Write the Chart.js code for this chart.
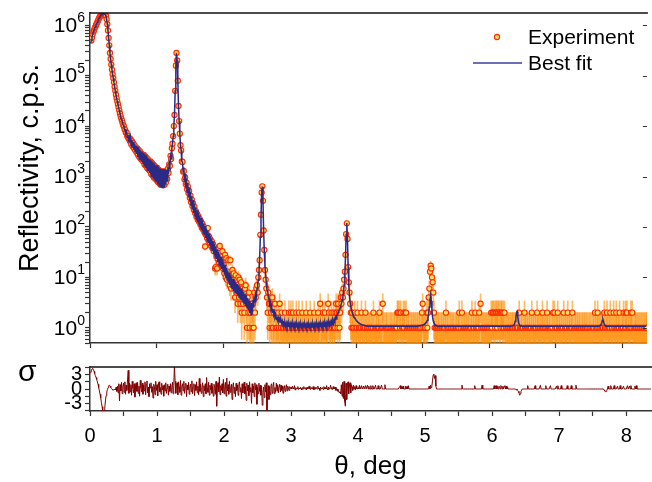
<!DOCTYPE html>
<html>
<head>
<meta charset="utf-8">
<script src="https://cdn.jsdelivr.net/npm/chart.js@4.4.1/dist/chart.umd.min.js"></script>
<style>
  body { margin: 0; background: #fff; }
  #wrap { position: relative; width: 652px; height: 482px; font-family: "Liberation Sans", Arial, sans-serif; }
  #top { position: absolute; left: 0; top: 0; }
  #bot { position: absolute; left: 0; top: 352px; }
  #sig { position: absolute; left: 18px; top: 356px; font-size: 30px; line-height: 30px; color: #000; }
</style>
</head>
<body>
<div id="wrap">
  <canvas id="top" width="652" height="352"></canvas>
  <canvas id="bot" width="652" height="130"></canvas>
  <div id="sig">σ</div>
</div>
<script>
// one row = 0.1 deg, ten steps of 0.01 deg (row k, col j -> theta = 0.1k + 0.01(j+1))
const expRows = [
  [null, 500000, 575000, 660000, 740000, 790000, 870000, 930000, 1000000, 1070000],
  [1150000, 1230000, 1320000, 1410000, 1480000, 1550000, 1620000, 1660000, 1700000, 1700000],
  [1700000, 1660000, 1620000, 1510000, 1320000, 1050000, 790000, 560000, 400000, 282000],
  [214000, 166000, 132000, 107000, 89000, 74000, 60000, 50000, 42000, 35500],
  [31000, 27000, 23500, 20500, 17800, 15800, 14100, 12900, 11500, 10500],
  [9770, 8700, 8320, 7420, 7410, 6310, 6460, 5620, 5760, 5010],
  [5490, 4370, 5010, 3990, 4570, 3630, 4160, 3310, 3800, 3020],
  [3630, 2690, 3390, 2460, 3160, 2290, 2880, 2130, 2690, 1990],
  [2690, 1740, 2510, 1630, 2340, 1480, 2190, 1380, 1990, 1290],
  [1990, 1120, 1860, 1050, 1740, 956, 1620, 911, 1516, 850],
  [1484, 778, 1376, 741, 1288, 691, 1259, 676, 1230, 676],
  [1259, 691, 1259, 758, 1284, 894, 1410, 1176, 1739, 1623],
  [2570, 2240, 3640, 4470, 6310, 10000, 16600, 50100, 158000, 282000],
  [200000, 79400, 25100, 12600, 7080, 4170, 3300, 1990, 1950, 1250],
  [1290, 870, 960, 700, 760, 560, 640, 470, 520, 380],
  [420, 310, 350, 260, 290, 220, 250, 190, 205, 160],
  [181, 139, 162, 127, 143, 112, 128, 97, 116, 89],
  [101, 78, 41, 70, 80, 60, 95, 54, 64, 49],
  [57, 42, 52, 38, 45, 33, 40, 15, 16, 26],
  [15, 23, 38, 20, 42, 26, 22, 16, 33, 15],
  [18, 12, 28, 10, 24, 9, 13, 22, 11, 7],
  [22, 6, 9, 14, 8, 12, 6, 4, 11, 5],
  [7, 3, 10, 4, 9, 3, 8, 2, 6, 3],
  [5, 2, 6, 7, 3, 1, 4, 2, 5, 1],
  [2, 0, 3, 1, 3, 1, 5, 2, 4, 6],
  [7, 5, 10, 14, 22, 70, 175, 480, 640, 330],
  [85, 35, 14, 9, 6, 4, 2, 5, 3, 1],
  [3, 2, 1, 4, 1, 2, 0, 3, 1, 2],
  [1, 0, 2, 1, 3, 0, 1, 2, 0, 1],
  [1, 0, 2, 1, 0, 1, 1, 0, 2, 1],
  [0, 2, 1, 0, 2, 1, 1, 0, 1, 2],
  [1, 0, 1, 2, 0, 1, 0, 1, 2, 1],
  [0, 1, 1, 0, 2, 1, 0, 1, 1, 0],
  [2, 1, 0, 1, 1, 0, 2, 0, 1, 1],
  [0, 1, 2, 1, 0, 3, 1, 0, 1, 2],
  [1, 0, 2, 1, 1, 0, 1, 3, 2, 1],
  [0, 1, 2, 1, 0, 2, 1, 1, 2, 3],
  [2, 1, 3, 2, 1, 2, 4, 3, 5, 4],
  [6, 9, 13, 28, 72, 118, 58, 16, 8, 5],
  [3, 2, 1, 2, 1, 1, 0, 2, 1, 0],
  [1, 2, 0, 1, 1, 0, 1, 2, 0, 1],
  [1, 0, 1, 2, 0, 1, 1, 0, 1, 1],
  [0, 1, 1, 0, 1, 2, 0, 1, 0, 1],
  [1, 0, 1, 1, 2, 0, 1, 0, 1, 3],
  [1, 0, 1, 0, 1, 1, 0, 1, 0, 1],
  [0, 1, 1, 0, 1, 0, 1, 1, 0, 1],
  [1, 2, 2, 0, 2, 1, 2, 0, 1, 1],
  [2, 1, 2, 0, 2, 1, 0, 1, 1, 0],
  [1, 0, 1, 1, 0, 1, 1, 0, 1, 1],
  [0, 1, 1, 0, 1, 1, 0, 1, 2, 3],
  [1, 0, 1, 1, 0, 2, 1, 2, 4, 6],
  [13, 17, 15, 10, 8, 5, 2, 1, 0, 1],
  [1, 0, 1, 1, 0, 1, 0, 1, 1, 0],
  [1, 1, 0, 1, 2, 0, 1, 1, 0, 1],
  [0, 1, 1, 0, 1, 1, 0, 1, 0, 1],
  [1, 0, 1, 1, 2, 0, 1, 0, 2, 1],
  [0, 1, 1, 0, 1, 1, 0, 1, 1, 0],
  [1, 0, 1, 2, 0, 1, 1, 0, 2, 1],
  [1, 0, 1, 1, 2, 0, 3, 1, 0, 1],
  [1, 0, 1, 1, 0, 1, 1, 0, 1, 1],
  [0, 1, 2, 1, 2, 2, 0, 2, 1, 2],
  [2, 1, 2, 2, 0, 2, 1, 2, 2, 1],
  [2, 1, 2, 0, 1, 1, 0, 1, 1, 0],
  [1, 1, 0, 1, 1, 1, 0, 1, 1, 0],
  [1, 1, 1, 0, 2, 1, 0, 1, 1, 0],
  [1, 0, 2, 1, 1, 0, 1, 1, 0, 1],
  [1, 0, 1, 2, 0, 1, 1, 0, 1, 1],
  [0, 2, 1, 1, 0, 1, 1, 0, 1, 2],
  [1, 0, 1, 1, 0, 1, 2, 1, 0, 1],
  [1, 0, 1, 0, 1, 2, 0, 2, 1, 0],
  [1, 1, 2, 0, 1, 1, 0, 1, 1, 0],
  [1, 2, 0, 1, 1, 0, 1, 2, 0, 1],
  [1, 0, 1, 1, 2, 0, 1, 0, 1, 1],
  [0, 1, 1, 0, 1, 1, 0, 1, 0, 1],
  [1, 0, 1, 1, 0, 1, 1, 0, 1, 0],
  [1, 1, 0, 1, 0, 1, 1, 0, 2, 1],
  [0, 1, 2, 1, 0, 1, 1, 0, 1, 1],
  [1, 0, 2, 1, 0, 1, 2, 1, 0, 1],
  [1, 2, 0, 1, 1, 0, 2, 1, 0, 1],
  [2, 1, 0, 1, 1, 2, 0, 1, 0, 1],
  [1, 2, 0, 1, 2, 1, 2, 0, 1, 1],
  [0, 1, 2, 1, 2, 0, 1, 0, 1, 1],
  [1, 0, 1, 1, 0, 1, 1, 0, 1, 1],
  [0, 1, 1, 0, 1, 1, 1, 1, 0, 0]
];

const fitRows = [
  [440000, 500000, 575000, 660000, 740000, 790000, 870000, 930000, 1000000, 1070000],
  [1150000, 1230000, 1320000, 1410000, 1480000, 1550000, 1620000, 1660000, 1700000, 1700000],
  [1700000, 1660000, 1620000, 1510000, 1320000, 1050000, 790000, 560000, 400000, 282000],
  [214000, 166000, 132000, 107000, 89000, 74000, 60000, 50000, 42000, 35500],
  [31000, 27000, 23500, 20500, 17800, 15800, 14100, 12900, 11500, 10500],
  [10000, 8500, 8510, 7250, 7760, 6030, 6760, 5370, 6030, 4790],
  [5890, 4080, 5370, 3720, 4900, 3390, 4470, 3090, 4080, 2820],
  [3980, 2450, 3710, 2240, 3460, 2090, 3160, 1950, 2950, 1820],
  [2950, 1590, 2750, 1480, 2570, 1350, 2400, 1260, 2190, 1175],
  [2180, 1020, 2040, 955, 1910, 872, 1780, 830, 1660, 775],
  [1665, 694, 1545, 661, 1446, 617, 1413, 603, 1381, 603],
  [1413, 617, 1380, 692, 1376, 835, 1511, 1123, 1779, 1586],
  [2570, 2240, 3640, 4470, 6310, 10000, 16600, 50100, 158000, 282000],
  [200000, 79400, 25100, 12600, 7080, 4170, 3300, 1990, 1950, 1250],
  [1516, 776, 1124, 602, 913, 490, 742, 398, 604, 324],
  [490, 269, 408, 223, 339, 190, 289, 162, 246, 138],
  [214, 123, 191, 109, 170, 95, 151, 85, 135, 76],
  [117, 67.5, 104, 60.5, 93, 53.5, 84, 48, 75, 42.7],
  [66, 37, 59, 33, 52, 28.7, 45, 25.6, 41, 23.3],
  [36, 20, 32, 17.8, 28.4, 16.3, 25.8, 14.7, 23.2, 13.2],
  [20, 11.3, 17.8, 10, 15.5, 8.9, 13.8, 7.9, 12.3, 7.1],
  [11.2, 6.4, 10.2, 5.9, 9.3, 5.4, 8.8, 5.0, 8.0, 4.7],
  [7.4, 4.35, 7.0, 4.0, 6.45, 3.7, 6.1, 3.5, 5.5, 3.26],
  [5.2, 2.95, 4.6, 2.7, 4.4, 2.5, 3.9, 2.25, 3.5, 1.94],
  [3.1, 1.82, 3.1, 2.0, 3.6, 2.5, 4.2, 3.3, 5.2, 4.2],
  [6.0, 7.2, 8.9, 12.6, 25, 63, 158, 500, 630, 316],
  [79, 32, 16.6, 11.2, 7.9, 5.7, 5.6, 3.9, 4.0, 2.9],
  [3.2, 2.4, 2.64, 2.04, 2.35, 1.82, 2.05, 1.62, 1.79, 1.47],
  [1.66, 1.41, 1.58, 1.35, 1.5, 1.3, 1.43, 1.24, 1.37, 1.18],
  [1.26, 1.10, 1.25, 1.08, 1.24, 1.07, 1.23, 1.07, 1.22, 1.06],
  [1.22, 1.06, 1.21, 1.05, 1.21, 1.05, 1.20, 1.05, 1.20, 1.04],
  [1.20, 1.04, 1.19, 1.04, 1.19, 1.04, 1.19, 1.04, 1.18, 1.04],
  [1.18, 1.04, 1.18, 1.04, 1.18, 1.03, 1.18, 1.03, 1.18, 1.03],
  [1.18, 1.04, 1.18, 1.04, 1.19, 1.04, 1.19, 1.04, 1.19, 1.05],
  [1.20, 1.05, 1.20, 1.05, 1.21, 1.06, 1.21, 1.06, 1.22, 1.07],
  [1.23, 1.07, 1.24, 1.08, 1.25, 1.09, 1.26, 1.10, 1.28, 1.12],
  [1.30, 1.14, 1.33, 1.17, 1.38, 1.22, 1.45, 1.32, 1.6, 1.5],
  [1.74, 1.86, 2.0, 2.14, 2.3, 2.5, 2.75, 3.1, 3.55, 4.2],
  [5.2, 7.1, 11.2, 25, 71, 120, 56, 15.8, 7.1, 4.2],
  [3.16, 2.63, 2.3, 2.04, 1.86, 1.74, 1.62, 1.55, 1.48, 1.41],
  [1.36, 1.32, 1.28, 1.25, 1.22, 1.2, 1.18, 1.16, 1.15, 1.14],
  [1.13, 1.12, 1.11, 1.10, 1.10, 1.09, 1.09, 1.08, 1.08, 1.08],
  [1.07, 1.07, 1.07, 1.07, 1.07, 1.07, 1.07, 1.07, 1.07, 1.07],
  [1.07, 1.07, 1.07, 1.07, 1.07, 1.07, 1.07, 1.07, 1.07, 1.07],
  [1.07, 1.07, 1.07, 1.07, 1.07, 1.07, 1.07, 1.07, 1.07, 1.07],
  [1.07, 1.07, 1.07, 1.07, 1.07, 1.07, 1.07, 1.07, 1.07, 1.07],
  [1.07, 1.07, 1.07, 1.07, 1.07, 1.07, 1.07, 1.07, 1.07, 1.07],
  [1.07, 1.07, 1.07, 1.07, 1.07, 1.07, 1.07, 1.07, 1.07, 1.07],
  [1.07, 1.07, 1.07, 1.07, 1.07, 1.07, 1.07, 1.07, 1.07, 1.07],
  [1.08, 1.08, 1.09, 1.09, 1.10, 1.10, 1.11, 1.12, 1.13, 1.14],
  [1.16, 1.18, 1.2, 1.23, 1.27, 1.33, 1.42, 1.6, 1.95, 2.6],
  [3.6, 4.5, 3.4, 2.2, 1.6, 1.35, 1.24, 1.18, 1.14, 1.12],
  [1.10, 1.09, 1.09, 1.08, 1.08, 1.08, 1.07, 1.07, 1.07, 1.07],
  [1.07, 1.07, 1.07, 1.07, 1.07, 1.07, 1.07, 1.07, 1.07, 1.07],
  [1.07, 1.07, 1.07, 1.07, 1.07, 1.07, 1.07, 1.07, 1.07, 1.07],
  [1.07, 1.07, 1.07, 1.07, 1.07, 1.07, 1.07, 1.07, 1.07, 1.07],
  [1.07, 1.07, 1.07, 1.07, 1.07, 1.07, 1.07, 1.07, 1.07, 1.07],
  [1.07, 1.07, 1.07, 1.07, 1.07, 1.07, 1.07, 1.07, 1.07, 1.07],
  [1.07, 1.07, 1.07, 1.07, 1.07, 1.07, 1.07, 1.07, 1.07, 1.07],
  [1.07, 1.07, 1.07, 1.07, 1.07, 1.07, 1.07, 1.07, 1.07, 1.07],
  [1.07, 1.07, 1.07, 1.07, 1.07, 1.07, 1.07, 1.07, 1.07, 1.07],
  [1.07, 1.07, 1.07, 1.07, 1.07, 1.07, 1.07, 1.07, 1.07, 1.07],
  [1.07, 1.07, 1.07, 1.07, 1.07, 1.07, 1.07, 1.07, 1.07, 1.07],
  [1.08, 1.08, 1.09, 1.09, 1.10, 1.11, 1.13, 1.18, 1.35, 1.6],
  [2.0, 2.1, 1.6, 1.3, 1.17, 1.12, 1.10, 1.09, 1.08, 1.08],
  [1.07, 1.07, 1.07, 1.07, 1.07, 1.07, 1.07, 1.07, 1.07, 1.07],
  [1.07, 1.07, 1.07, 1.07, 1.07, 1.07, 1.07, 1.07, 1.07, 1.07],
  [1.07, 1.07, 1.07, 1.07, 1.07, 1.07, 1.07, 1.07, 1.07, 1.07],
  [1.07, 1.07, 1.07, 1.07, 1.07, 1.07, 1.07, 1.07, 1.07, 1.07],
  [1.07, 1.07, 1.07, 1.07, 1.07, 1.07, 1.07, 1.07, 1.07, 1.07],
  [1.07, 1.07, 1.07, 1.07, 1.07, 1.07, 1.07, 1.07, 1.07, 1.07],
  [1.07, 1.07, 1.07, 1.07, 1.07, 1.07, 1.07, 1.07, 1.07, 1.07],
  [1.07, 1.07, 1.07, 1.07, 1.07, 1.07, 1.07, 1.07, 1.07, 1.07],
  [1.07, 1.07, 1.07, 1.07, 1.07, 1.07, 1.07, 1.07, 1.07, 1.07],
  [1.07, 1.07, 1.07, 1.07, 1.07, 1.07, 1.07, 1.07, 1.07, 1.07],
  [1.07, 1.07, 1.07, 1.07, 1.07, 1.07, 1.07, 1.07, 1.07, 1.07],
  [1.07, 1.07, 1.08, 1.08, 1.09, 1.10, 1.12, 1.16, 1.25, 1.4],
  [1.45, 1.3, 1.17, 1.12, 1.1, 1.09, 1.08, 1.07, 1.07, 1.07],
  [1.07, 1.07, 1.07, 1.07, 1.07, 1.07, 1.07, 1.07, 1.07, 1.07],
  [1.07, 1.07, 1.07, 1.07, 1.07, 1.07, 1.07, 1.07, 1.07, 1.07],
  [1.07, 1.07, 1.07, 1.07, 1.07, 1.07, 1.07, 1.07, 1.07, 1.07],
  [1.07, 1.07, 1.07, 1.07, 1.07, 1.07, 1.07, 1.07, 1.07, 1.07],
  [1.07, 1.07, 1.07, 1.07, 1.07, 1.07, 1.07, 1.07, 1.07, 1.07],
  [1.07, 1.07, 1.07, 1.07, 1.07, 1.07, 1.07, 1.07, 1.07, 1.07]
];

// residuals, sigma units
const sigmaRows = [
  [3.3, 3.8, 4.2, 4.3, 4.1, 3.7, 3.2, 2.8, 2.4, 2.0],
  [1.5, 1.0, 0.3, -0.4, -1.1, -1.9, -2.8, -3.7, -4.6, -5.2],
  [-5.5, -4.0, -2.5, -1.4, -0.6, -0.1, 0.3, 0.7, 0.8, 0.6],
  [0.3, 0.1, -0.1, -0.2, -0.2, -0.1, 0.0, -0.2, 0.4, -0.5],
  [0.6, -0.8, 1.1, -2.5, 0.9, -0.4, 1.4, -1.0, 0.5, 1.2],
  [-0.7, 1.5, -1.1, 0.8, -0.3, 1.9, 3.9, -0.9, 1.2, -0.6],
  [0.9, -1.3, 1.6, 0.2, -0.8, 1.1, -1.7, 0.7, 1.3, -0.5],
  [1.4, -0.9, 0.6, -1.5, 1.8, 0.3, -0.6, 1.2, -1.1, 0.8],
  [-0.4, 1.5, -1.2, 0.9, 1.7, -0.8, 0.4, -1.6, 1.1, 0.2],
  [1.3, -0.7, 0.5, -1.9, 1.0, 0.6, -1.2, 1.6, -0.3, 0.9],
  [-1.4, 0.8, 1.5, -0.6, 0.3, -1.1, 1.2, -0.2, 0.7, -1.5],
  [0.9, -0.4, 1.3, -0.9, 0.2, 1.0, -1.3, 0.6, -0.5, 1.1],
  [-0.8, 0.5, 1.4, -1.0, 0.7, 5.0, 1.6, -0.9, 0.8, 1.3],
  [-1.2, 1.5, 0.4, -0.7, 1.8, -1.3, 0.6, 1.1, -0.4, 1.6],
  [-0.9, 0.3, 1.2, -1.6, 0.8, -0.2, 1.4, -1.1, 0.5, 1.0],
  [-0.6, 1.7, -1.0, 0.4, 1.1, -1.4, 0.9, -0.3, 1.5, -0.8],
  [0.6, -1.2, 2.2, -0.5, 1.0, -0.9, 0.3, 1.3, -1.6, 0.7],
  [-0.4, 1.1, -1.0, 2.4, 0.2, -0.7, 1.4, -1.3, 0.8, -0.2],
  [1.2, -0.9, 0.5, -1.5, 1.0, 0.3, -1.1, 1.6, -3.6, 0.4],
  [1.3, -0.6, 2.5, -1.2, 0.7, -0.3, 1.1, -0.8, 2.0, -1.0],
  [0.5, 1.4, -1.5, 2.3, -0.4, 0.9, -1.1, 1.6, -0.7, 0.2],
  [1.0, -2.2, 0.6, 1.3, -0.9, 0.4, -1.6, 1.2, -0.3, 0.8],
  [-1.3, 0.9, 1.5, -0.6, 0.3, -2.0, 1.1, -0.8, 0.6, 1.4],
  [-1.0, 0.5, -2.4, 1.2, -0.4, 0.8, -1.4, 1.5, -0.6, 0.3],
  [-3.0, 1.1, -0.8, 0.6, -1.6, 1.3, -0.2, 0.9, -3.2, 0.4],
  [-1.0, 1.2, -0.5, 0.8, -1.3, 0.6, -3.4, -0.7, 0.4, -1.8],
  [0.9, -0.6, 1.3, -5.0, -1.5, 0.7, -2.2, 0.5, -1.2, 0.8],
  [1.1, -0.9, 0.6, 1.4, -1.0, 0.3, -0.7, 1.2, -0.4, 0.9],
  [-0.8, 0.5, 1.0, -0.6, 0.8, -0.3, 0.6, -0.9, 0.4, 0.7],
  [-0.5, 0.3, 0.9, -0.4, 0.6, 0.2, -0.3, 0.5, 0.1, 0.4],
  [0.0, 0.6, 0.2, 0.0, 0.7, -0.2, 0.3, 0.0, 0.1, 0.5],
  [-0.1, 0.2, 0.0, 0.4, 0.1, -0.2, 0.3, 0.0, 0.5, 0.1],
  [0.0, 0.3, -0.2, 0.4, 0.0, 0.2, 0.6, 0.0, -0.1, 0.3],
  [0.1, 0.0, 0.5, -0.2, 0.3, 0.0, 0.4, 0.1, 0.0, 0.6],
  [0.0, 0.2, -0.3, 0.4, 0.1, 0.0, 0.3, -0.1, 0.5, 0.0],
  [0.3, 0.0, 0.7, 0.1, -0.2, 0.4, 0.0, 0.2, 0.8, 0.0],
  [0.3, -0.1, 0.5, 0.0, 0.2, 0.4, -0.3, 0.1, 0.0, -0.5],
  [-0.4, -0.8, -0.6, -1.0, 0.9, -1.5, 1.4, -2.0, 1.6, -2.6],
  [-3.6, 1.2, -2.2, 0.8, 1.5, -1.0, 0.6, 1.3, -0.8, 0.9],
  [0.4, -0.3, 0.8, 0.0, 0.5, -0.2, 0.7, 0.1, 0.0, 0.3],
  [0.0, 0.8, 0.0, 0.0, 0.7, 0.0, 0.0, 0.6, 0.0, 0.0],
  [0.7, 0.0, 0.0, 0.8, 0.0, 0.6, 0.0, 0.0, 0.7, 0.0],
  [0.0, 0.7, 0.0, 0.0, 0.0, 0.8, 0.0, 0.0, 0.0, 0.7],
  [0.0, 0.0, 0.0, 0.0, 0.8, 0.0, 0.0, 0.0, 0.0, 0.9],
  [0, 0, 0, 0, 0, 0, 0, 0, 0, 0],
  [0, 0, 0, 0, 0, 0, 0, 0, 0, 0],
  [0.0, 0.5, 0.7, 0.0, 0.5, 0.0, 0.6, 0.0, 0.0, 0.0],
  [0.6, 0.0, 0.5, 0.0, 0.7, 0.0, 0.0, 0.0, 0.0, 0.0],
  [0, 0, 0, 0, 0, 0, 0, 0, 0, 0],
  [0, 0, 0, 0, 0, 0, 0, 0, 0, 0],
  [0.0, 0.0, 0.0, 0.0, 0.0, 0.6, 0.0, 0.8, 0.3, 0.5],
  [1.7, 2.9, 3.1, 2.2, 2.8, 0.6, 0.0, 0.0, 0.0, 0.0],
  [0, 0, 0, 0, 0, 0, 0, 0, 0, 0],
  [0, 0, 0, 0, 0, 0, 0, 0, 0, 0],
  [0, 0, 0, 0, 0, 0, 0, 0, 0, 0],
  [0.0, 0.0, 0.0, 0.0, 0.8, 0.0, 0.0, 0.0, 0.0, 0.0],
  [0, 0, 0, 0, 0, 0, 0, 0, 0, 0],
  [0.0, 0.0, 0.0, 0.7, 0.0, 0.0, 0.0, 0.0, 0.0, 0.0],
  [0.0, 0.0, 0.0, 0.0, 0.8, 0.0, 0.0, 0.0, 0.0, 0.0],
  [0, 0, 0, 0, 0, 0, 0, 0, 0, 0],
  [0.0, 0.0, 0.7, 0.0, 0.6, 0.7, 0.0, 0.5, 0.0, 0.6],
  [0.5, 0.0, 0.7, 0.4, 0.0, 0.6, 0.0, 0.5, 0.7, 0.0],
  [0.6, 0.0, 0.4, 0.0, 0.0, 0.0, 0.0, 0.0, 0.0, 0.0],
  [0.0, 0.0, 0.0, 0.0, 0.0, -0.2, 0.0, -0.3, -0.5, -0.8],
  [-1.3, -1.0, -0.5, -0.2, 0.0, 0.0, 0.0, 0.0, 0.0, 0.0],
  [0.0, 0.0, 0.7, 0.0, 0.0, 0.0, 0.0, 0.0, 0.0, 0.0],
  [0.0, 0.0, 0.0, 0.7, 0.0, 0.0, 0.0, 0.0, 0.0, 0.0],
  [0.0, 0.8, 0.0, 0.0, 0.0, 0.0, 0.0, 0.0, 0.0, 0.7],
  [0.0, 0.0, 0.0, 0.0, 0.0, 0.0, 0.7, 0.0, 0.0, 0.0],
  [0.0, 0.0, 0.0, 0.0, 0.0, 0.6, 0.0, 0.7, 0.0, 0.0],
  [0.0, 0.0, 0.7, 0.0, 0.0, 0.0, 0.0, 0.0, 0.0, 0.0],
  [0.0, 0.7, 0.0, 0.0, 0.0, 0.0, 0.0, 0.7, 0.0, 0.0],
  [0.0, 0.0, 0.0, 0.0, 0.8, 0.0, 0.0, 0.0, 0.0, 0.0],
  [0, 0, 0, 0, 0, 0, 0, 0, 0, 0],
  [0, 0, 0, 0, 0, 0, 0, 0, 0, 0],
  [0, 0, 0, 0, 0, 0, 0, 0, 0, 0],
  [0.0, 0.0, 0.0, 0.0, 0.0, 0.0, -0.2, -0.4, -0.6, -0.5],
  [-0.3, 0.0, 0.6, 0.0, 0.0, 0.0, 0.7, 0.0, 0.0, 0.0],
  [0.0, 0.7, 0.0, 0.0, 0.0, 0.0, 0.6, 0.0, 0.0, 0.0],
  [0.7, 0.0, 0.0, 0.0, 0.0, 0.6, 0.0, 0.0, 0.0, 0.0],
  [0.0, 0.7, 0.0, 0.0, 0.6, 0.0, 0.7, 0.0, 0.0, 0.0],
  [0.0, 0.0, 0.6, 0.0, 0.7, 0.0, 0.0, 0.0, 0.0, 0.0],
  [0, 0, 0, 0, 0, 0, 0, 0, 0, 0],
  [0, 0, 0, 0, 0, 0, 0, 0, 0, 0]
];

// axes
const xTicksTop = [0, 1, 2, 3, 4, 5, 6, 7, 8];
const xTicks = [0, 0.5, 1, 1.5, 2, 2.5, 3, 3.5, 4, 4.5, 5, 5.5, 6, 6.5, 7, 7.5, 8];
const sigmaTicks = [-4.5, -3, -1.5, 0, 1.5, 3, 4.5];
const sigmaLabels = [-3, 0, 3];
const decades = [-1, 0, 1, 2, 3, 4, 5, 6];

const FONT = '"Liberation Sans", Arial, sans-serif';
const AXIS = '#333';

function rowsToPoints(rows) {
  const pts = [];
  rows.forEach((row, k) => row.forEach((v, j) => {
    pts.push({ x: +(k * 0.1 + (j + 1) * 0.01).toFixed(2), y: v });
  }));
  return pts;
}

const expRaw = rowsToPoints(expRows);
const expPts = expRaw.map(p => ({ x: p.x, y: p.y > 0 ? p.y : null }));
const errPts = expRaw.filter(p => p.y !== null).map(p => ({
  x: p.x,
  y: [Math.max(p.y - Math.sqrt(p.y), 0.3), p.y === 0 ? 1 : p.y + Math.sqrt(p.y)]
}));
const fitPts = rowsToPoints(fitRows);
const sigmaPts = rowsToPoints(sigmaRows);

const logTicks = [];
decades.forEach(d => {
  for (let m = 1; m <= 9; m++) {
    const v = +(m * Math.pow(10, d)).toPrecision(3);
    if (v >= 0.5 && v <= 1.75e6) logTicks.push(v);
  }
});

const axisGrid = { drawOnChartArea: false, drawTicks: true, tickLength: 5, tickWidth: 1.2, tickColor: AXIS };
const axisBorder = { display: true, color: AXIS, width: 1.5 };

// top line of each frame
const frameTop = {
  id: 'frameTop',
  afterDraw(chart) {
    const { ctx, chartArea: a } = chart;
    ctx.save();
    ctx.strokeStyle = '#111';
    ctx.lineWidth = 1.5;
    ctx.beginPath();
    ctx.moveTo(a.left, a.top);
    ctx.lineTo(a.right + 1, a.top);
    ctx.stroke();
    ctx.restore();
  }
};

// 10^n labels with a raised exponent, inner ticks on the right edge, rotated axis title
const decadeLabels = {
  id: 'decadeLabels',
  afterDraw(chart) {
    const s = chart.scales.y, ctx = chart.ctx, a = chart.chartArea;
    ctx.save();
    ctx.strokeStyle = AXIS;
    ctx.lineWidth = 1;
    decades.filter(d => d >= 0).forEach(d => {
      const y = Math.round(s.getPixelForValue(Math.pow(10, d))) + 0.5;
      ctx.beginPath();
      ctx.moveTo(a.right, y);
      ctx.lineTo(a.right - 4, y);
      ctx.stroke();
    });
    ctx.fillStyle = '#000';
    ctx.textBaseline = 'middle';
    ctx.textAlign = 'right';
    decades.filter(d => d >= 0).forEach(d => {
      const y = s.getPixelForValue(Math.pow(10, d));
      ctx.font = '14px ' + FONT;
      const ew = ctx.measureText(String(d)).width;
      ctx.fillText(String(d), 85, y - 7);
      ctx.font = '21px ' + FONT;
      ctx.fillText('10', 85 - ew, y + 1);
    });
    ctx.translate(31, 168);
    ctx.rotate(-Math.PI / 2);
    ctx.textAlign = 'center';
    ctx.font = '27px ' + FONT;
    ctx.fillText('Reflectivity, c.p.s.', 0, 0);
    ctx.restore();
  }
};

const legendBox = {
  id: 'legendBox',
  afterDraw(chart) {
    const ctx = chart.ctx;
    const fit = chart.data.datasets[0], exp = chart.data.datasets[1];
    ctx.save();
    ctx.beginPath();
    ctx.arc(497, 37, exp.pointRadius, 0, Math.PI * 2);
    ctx.fillStyle = exp.pointBackgroundColor;
    ctx.fill();
    ctx.lineWidth = exp.pointBorderWidth;
    ctx.strokeStyle = exp.pointBorderColor;
    ctx.stroke();
    ctx.beginPath();
    ctx.moveTo(473, 63);
    ctx.lineTo(522, 63);
    ctx.strokeStyle = '#3c3ca0';
    ctx.lineWidth = 1.3;
    ctx.stroke();
    ctx.fillStyle = '#000';
    ctx.font = '21px ' + FONT;
    ctx.textBaseline = 'middle';
    ctx.fillText(exp.label, 528, 38);
    ctx.fillText(fit.label, 528, 64);
    ctx.restore();
  }
};

new Chart(document.getElementById('top'), {
  type: 'line',
  data: {
    datasets: [
      { type: 'line', label: 'Best fit', data: fitPts, borderColor: '#2b2a86', borderWidth: 1.5,
        pointRadius: 0, fill: false, tension: 0, order: 0 },
      { type: 'line', label: 'Experiment', data: expPts, showLine: false, pointRadius: 2.6,
        pointBorderWidth: 1.1, pointBorderColor: '#ff2a00', pointBackgroundColor: '#ffe45c', order: 1 },
      { type: 'bar', label: 'error', data: errPts, backgroundColor: 'rgba(255,140,0,0.6)',
        barThickness: 1, grouped: false, order: 2 }
    ]
  },
  options: {
    responsive: false,
    animation: false,
    devicePixelRatio: 1,
    events: [],
    layout: { padding: { top: 13, right: 1, left: 0, bottom: 0 } },
    plugins: { legend: { display: false }, tooltip: { enabled: false } },
    scales: {
      x: {
        type: 'linear', min: 0, max: 8.37, offset: false,
        grid: { ...axisGrid, offset: false }, border: axisBorder,
        ticks: { display: false },
        afterBuildTicks: s => { s.ticks = xTicksTop.map(v => ({ value: v })); },
        afterFit: s => { s.height = 9; }
      },
      y: {
        type: 'logarithmic', min: 0.5, max: 1.75e6,
        grid: axisGrid, border: axisBorder,
        afterBuildTicks: s => { s.ticks = logTicks.map(v => ({ value: v })); },
        ticks: { display: false },
        afterFit: s => { s.width = 90; }
      }
    }
  },
  plugins: [frameTop, decadeLabels, legendBox]
});

new Chart(document.getElementById('bot'), {
  type: 'line',
  data: {
    datasets: [
      { label: 'sigma', data: sigmaPts, borderColor: '#800000', borderWidth: 1, pointRadius: 0, tension: 0 }
    ]
  },
  options: {
    responsive: false,
    animation: false,
    devicePixelRatio: 1,
    events: [],
    layout: { padding: { top: 11, right: 1, left: 0, bottom: 0 } },
    plugins: { legend: { display: false }, tooltip: { enabled: false } },
    scales: {
      x: {
        type: 'linear', min: 0, max: 8.37,
        grid: axisGrid, border: axisBorder,
        afterBuildTicks: s => { s.ticks = xTicks.map(v => ({ value: v })); },
        ticks: {
          autoSkip: false, maxRotation: 0, color: '#000', padding: 8,
          font: { family: FONT, size: 20 },
          callback: v => Number.isInteger(v) ? String(v) : ''
        },
        title: { display: true, text: 'θ, deg', color: '#000',
                 font: { family: FONT, size: 26 }, padding: { top: 0, bottom: 0 } },
        afterFit: s => { s.height = 71; }
      },
      y: {
        type: 'linear', min: -4.6, max: 4.6,
        grid: axisGrid, border: axisBorder,
        afterBuildTicks: s => { s.ticks = sigmaTicks.map(v => ({ value: v })); },
        ticks: {
          autoSkip: false, color: '#000', padding: 3,
          font: { family: FONT, size: 20 },
          callback: v => sigmaLabels.includes(v) ? String(v) : ''
        },
        afterFit: s => { s.width = 90; }
      }
    }
  },
  plugins: [frameTop]
});
</script>
</body>
</html>
